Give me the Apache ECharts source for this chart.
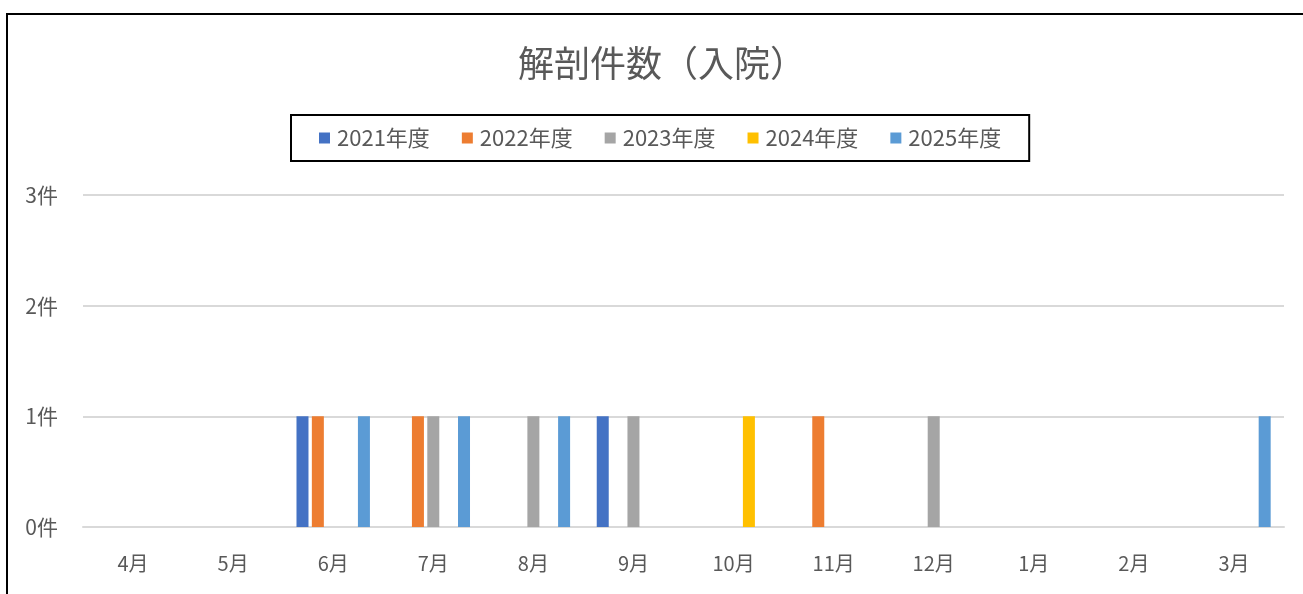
<!DOCTYPE html>
<html>
<head>
<meta charset="utf-8">
<script src="https://cdn.jsdelivr.net/npm/echarts@6/dist/echarts.min.js"></script>
<style>
html,body{margin:0;padding:0;background:#fff;}
#chart{width:1303px;height:594px;}
</style>
</head>
<body>
<div id="chart"></div>
<script>
const months = ['4月','5月','6月','7月','8月','9月','10月','11月','12月','1月','2月','3月'];
const seriesNames = ['2021年度','2022年度','2023年度','2024年度','2025年度'];
const colors = ['#4472C4','#ED7D31','#A5A5A5','#FFC000','#5B9BD5'];
const fy2021 = [0,0,1,0,0,1,0,0,0,0,0,0];
const fy2022 = [0,0,1,1,0,0,0,1,0,0,0,0];
const fy2023 = [0,0,0,1,1,1,0,0,1,0,0,0];
const fy2024 = [0,0,0,0,0,0,1,0,0,0,0,0];
const fy2025 = [0,0,1,1,1,0,0,0,0,0,0,1];
const yTicks = [0,1,2,3];

const allData = [fy2021, fy2022, fy2023, fy2024, fy2025];
const font = '"Noto Sans CJK JP", "Noto Sans", sans-serif';
const chart = echarts.init(document.getElementById('chart'));
chart.setOption({
  animation: false,
  backgroundColor: '#fff',
  graphic: [{
    type: 'rect',
    shape: {x: 7, y: 14, width: 1310, height: 600},
    style: {fill: 'none', stroke: '#000', lineWidth: 2},
    silent: true
  }],
  title: {
    text: '解剖件数（入院）',
    left: 513,
    top: 40,
    textStyle: {fontFamily: font, fontSize: 36, fontWeight: 'normal', color: '#595959'}
  },
  legend: {
    top: 115,
    left: 291,
    data: seriesNames,
    itemWidth: 11,
    itemHeight: 11,
    itemGap: 32,
    icon: 'rect',
    padding: [12, 28, 12, 28],
    borderColor: '#000',
    borderWidth: 2,
    textStyle: {fontFamily: font, fontSize: 22, color: '#595959', padding: [0,0,0,2]}
  },
  grid: {left: 83, right: 19, top: 195, bottom: 67, containLabel: false},
  xAxis: {
    type: 'category',
    data: months,
    axisLine: {lineStyle: {color: '#d9d9d9', width: 2}},
    axisTick: {show: false},
    axisLabel: {fontFamily: font, fontSize: 20, color: '#595959', margin: 26}
  },
  yAxis: {
    type: 'value',
    min: yTicks[0],
    max: yTicks[yTicks.length-1],
    interval: 1,
    axisLine: {show: false},
    axisTick: {show: false},
    splitLine: {lineStyle: {color: '#d9d9d9', width: 2}},
    axisLabel: {fontFamily: font, fontSize: 21, color: '#595959', margin: 25, formatter: '{value}件'}
  },
  series: seriesNames.map((n, i) => ({
    name: n,
    type: 'bar',
    data: allData[i],
    barWidth: 12,
    barGap: '28%',
    itemStyle: {color: colors[i]}
  }))
});
</script>
</body>
</html>
